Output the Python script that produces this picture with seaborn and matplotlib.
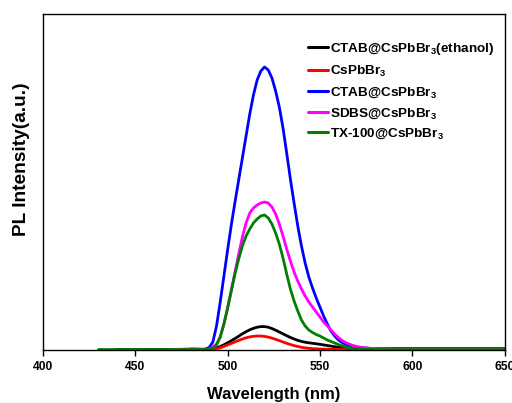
import numpy as np
import pandas as pd
import matplotlib
matplotlib.use("Agg")
import matplotlib.pyplot as plt
import seaborn as sns

# Emission wavelength grid (nm): coarse tails, 2 nm steps across the band
wavelength = ([430, 440, 450, 460, 470, 480, 484]
              + list(range(486, 581, 2))
              + [590, 600, 610, 620, 630, 640, 650])

# PL intensity (a.u.) of each sample; None where the spectrum was not recorded
ctab_ethanol = ([None, 0.5, 0.5, 0.5, 0.5, 0.5, 0.5]
                + [0.5, 0.5, 0.7, 1.2, 2, 3.5, 5.2, 7.2, 9.3, 11.5,
                   13.8, 16.2, 18.3, 20.2, 21.7, 22.8, 23.4, 23.4, 22.8, 21.5,
                   19.8, 18, 16.2, 14.3, 12.6, 11, 9.7, 8.6, 7.8, 7.2,
                   6.7, 6.2, 5.7, 5.1, 4.5, 3.9, 3.3, 2.7, 2.2, 1.7,
                   1.3, 1, 0.8, 0.7, 0.6, 0.5, 0.5, 0.5]
                + [0.5, 0.5, None, None, None, None, None])
cspbbr3 = ([None, None, None, None, 0.5, 1, 0.5]
           + [0.5, 0.5, 0.6, 0.8, 1.2, 2.2, 3.6, 5.1, 6.6, 8.1,
              9.6, 11, 12.2, 13.1, 13.7, 14, 14, 13.6, 12.9, 11.9,
              10.7, 9.4, 8, 6.7, 5.5, 4.4, 3.5, 2.7, 2.1, 1.7,
              1.4, 1.2, 1, 0.9, 0.8, 0.7, 0.6, 0.6, 0.5, 0.5,
              0.5, 0.5, 0.5, 0.5, 0.5, 0.5, 0.5, 0.5]
           + [0.5, 0.5, None, None, None, None, None])
ctab = ([None, None, None, None, None, 1, 1]
        + [0.8, 1, 2.5, 8, 24, 48, 74, 100, 125, 148,
           170, 192, 214, 236, 255, 270, 279, 283, 280, 272,
           259, 243, 222, 197, 171, 147, 124, 104, 87, 73,
           62, 52, 43, 34, 26, 19, 14, 10, 7.5, 5.5,
           4.2, 3.3, 2.7, 2.3, 2, 1.8, 1.6, 1.5]
        + [1.5, 1.5, 1.5, 1.5, 1.5, 1.5, 1.5])
sdbs = ([None, None, None, None, None, 0.5, 0.5]
        + [0.3, 0.5, 1, 3, 6, 13, 26, 42, 60, 78,
           96, 113, 127, 137, 142, 145, 147, 148, 147, 143,
           136, 126, 114, 101, 89, 78, 69, 61, 54, 48,
           43, 38, 33, 28, 24, 20, 16, 12.5, 9.5, 7.5,
           5.8, 4.5, 3.5, 2.8, 2.3, 1.9, 1.6, 1.4]
        + [1, 1, 1, 1, 1, 1, 1])
tx100 = ([0.5, 0.5, 0.5, 0.5, 0.5, 0.5, 0.5]
         + [0.5, 0.5, 0.8, 2, 5, 13, 26, 42, 59, 76,
            91, 104, 114, 121, 127, 131, 134, 135, 132, 126,
            117, 106, 92, 76, 61, 49, 39, 30, 24, 20,
            17.5, 15.5, 14, 12, 10, 8.5, 7, 5.5, 4.2, 3,
            2.2, 1.6, 1.2, 1, 0.8, 0.7, 0.6, 0.5]
         + [0.5, 0.5, 0.5, 0.5, 0.5, 0.5, 0.5])

labels = ["CTAB@CsPbBr$_3$(ethanol)", "CsPbBr$_3$", "CTAB@CsPbBr$_3$",
          "SDBS@CsPbBr$_3$", "TX-100@CsPbBr$_3$"]
series = [ctab_ethanol, cspbbr3, ctab, sdbs, tx100]
colors = ["#000000", "#ff0000", "#0000ff", "#ff00ff", "#008000"]

frames = []
for name, vals in zip(labels, series):
    frames.append(pd.DataFrame({"Wavelength": wavelength,
                                "Intensity": pd.to_numeric(pd.Series(vals, dtype="object"),
                                                           errors="coerce"),
                                "Sample": name}))
df = pd.concat(frames, ignore_index=True).dropna()

sns.set_theme(style="white")
plt.rcParams["font.family"] = ["Liberation Sans", "DejaVu Sans"]
plt.rcParams["font.weight"] = "bold"
plt.rcParams["mathtext.fontset"] = "custom"
plt.rcParams["mathtext.rm"] = "Liberation Sans:bold"
plt.rcParams["mathtext.bf"] = "Liberation Sans:bold"
plt.rcParams["mathtext.default"] = "bf"
plt.rcParams["text.color"] = "black"
plt.rcParams["axes.labelcolor"] = "black"
plt.rcParams["xtick.color"] = "black"
plt.rcParams["ytick.color"] = "black"

fig = plt.figure(figsize=(5.12, 4.03), dpi=100)
ax = fig.add_axes([0.084, 0.1315, 0.9014, 0.8338])

sns.lineplot(data=df, x="Wavelength", y="Intensity", hue="Sample",
             hue_order=labels, palette=dict(zip(labels, colors)),
             estimator=None, sort=True, linewidth=2.0, ax=ax)

ax.set_xlim(400, 650)
ax.set_ylim(0, 336)
ax.set_xticks([400, 450, 500, 550, 600, 650])
ax.set_yticks([])
ax.tick_params(axis="x", direction="out", length=4, width=1,
               labelsize=8.7, bottom=True, pad=4, colors="black")
for lbl in ax.get_xticklabels():
    lbl.set_fontweight("bold")
for sp in ax.spines.values():
    sp.set_visible(True)
    sp.set_color("black")
    sp.set_linewidth(1.0)

ax.set_xlabel("Wavelength (nm)", fontsize=12, fontweight="bold",
              labelpad=10, color="black")
ax.set_ylabel("PL Intensity(a.u.)", fontsize=13.8, fontweight="bold",
              color="black")
ax.yaxis.set_label_coords(-0.029, 0.568)

leg = ax.legend(loc="upper left", bbox_to_anchor=(0.5625, 0.935),
                frameon=False, fontsize=9.7, handlelength=1.5,
                handletextpad=0.15, labelspacing=0.48, borderaxespad=0)
for line in leg.get_lines():
    line.set_linewidth(2.2)
for txt in leg.get_texts():
    txt.set_color("black")

fig.savefig("out.png", dpi=100, facecolor="white")
